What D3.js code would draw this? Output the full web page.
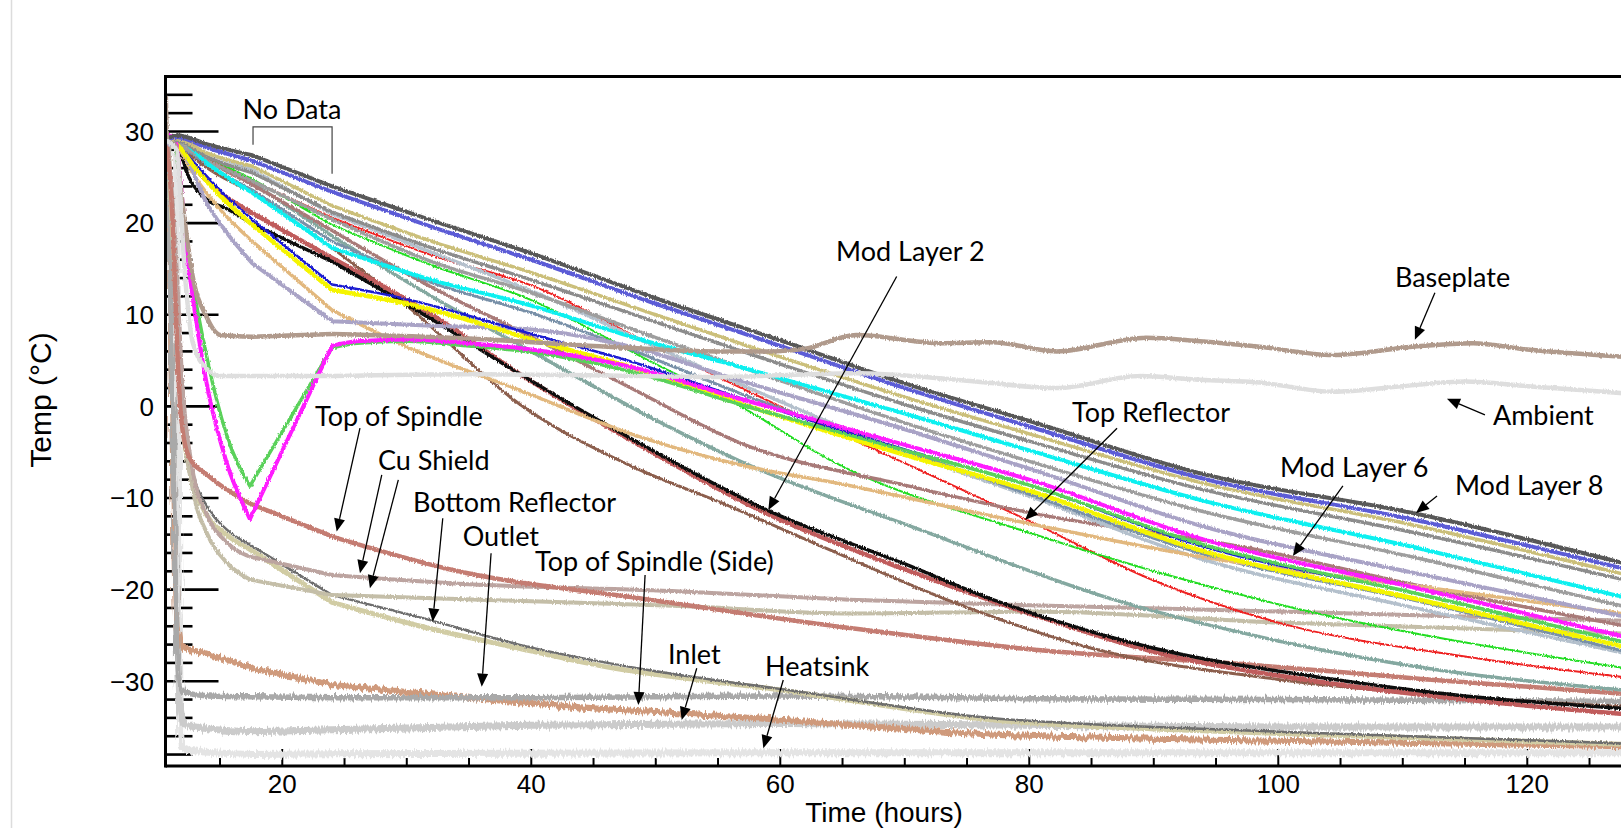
<!DOCTYPE html>
<html><head><meta charset="utf-8">
<script src="https://cdn.jsdelivr.net/npm/d3@7"></script>
<style>
html,body{margin:0;padding:0;background:#fff;overflow:hidden;}
svg{display:block;}
.tick-label{font-family:"Liberation Sans",Arial,sans-serif;font-size:26px;fill:#000;}
.ann{font-family:Lato,"Open Sans",sans-serif;font-size:27px;fill:#000;}
</style></head>
<body>
<svg id="chart" width="1621" height="828"></svg>
<script>
// ---------------- DATA (hours, °C) ----------------
const xTickLabels = [20, 40, 60, 80, 100, 120];
const yTickLabels = [30, 20, 10, 0, -10, -20, -30];

const modLayer8 = [[10.7,29.2],[11.5,29.6],[14,28.6],[17.6,27.4],[24,24],[32,20.3],[40,16.7],[50,11.8],[60,7.2],[70,2.5],[80,-1.6],[93.7,-7.3],[111,-11.7],[128,-17.2]];
const bluePurple = [[10.7,29],[11.5,29.4],[14,28.2],[17.6,26.8],[24,23.4],[32,19.6],[40,16],[50,11.2],[60,6.6],[70,2],[80,-2.2],[93.7,-7.8],[111,-12.4],[128,-17.8]];
const khaki = [[10.7,29],[11.5,29.2],[14,27.6],[17.6,26.2],[24,21.9],[32,18],[40,14.6],[50,10],[60,5.4],[70,1],[80,-3],[93.7,-8.3],[111,-13],[128,-18.4]];
const grayA = [[10.7,28.8],[11.5,29],[14,27.2],[17.6,25.5],[24,21.2],[32,17.3],[40,13.8],[50,9.2],[60,4.6],[70,0.2],[80,-3.8],[93.7,-9],[111,-13.8],[128,-19]];
const cyan = [[10.7,29.2],[11.5,29.2],[14,26.5],[17.6,23.3],[24,17.3],[32,13.8],[40,11],[48,7.6],[56.8,4.3],[70,-0.8],[80,-4.8],[93.7,-10.2],[111,-15.4],[128,-20.9]];
const grayB = [[11.5,28.8],[14,26.8],[17.6,24.6],[24,20.4],[32,15.8],[40,12.4],[50,7.5],[60,2.8],[70,-1.8],[80,-6],[93.7,-11.4],[111,-16.5],[128,-21.9]];
const lavender = [[10.7,28.6],[11.5,28.5],[14,22],[17.6,15.6],[24,9.3],[32,8.8],[40,8.4],[48,6.5],[56.8,2.8],[70,-2.5],[80,-6.8],[93.7,-13],[111,-18.2],[128,-23]];
const modLayer6 = [[10.7,29.6],[11.3,29.3],[12.5,15],[14,2],[15.5,-6],[17.4,-12.3],[24,6.6],[26,7.1],[30,7.3],[35,6.9],[40,6.2],[48,4.3],[56.8,0.8],[70,-4.2],[80,-8],[93.7,-14.4],[111,-19.8],[128,-25.2]];
const greenDip = [[10.7,29.2],[11.3,28.5],[12.5,16],[14,5],[15.5,-3],[17.4,-8.7],[24,6.4],[26,6.9],[30,7.1],[35,6.6],[40,5.9],[48,3.8],[56.8,0.2],[70,-4.8],[80,-8.6],[93.7,-15],[111,-20.4],[128,-25.8]];
const yellow = [[10.7,29],[11.5,28.6],[13,26],[15,23],[17.6,19.8],[24,12.7],[30,11.2],[36,9],[40,7.3],[48,4.3],[56.8,0.3],[70,-5.3],[80,-9.2],[93.7,-15.7],[111,-21],[128,-26.3]];
const blue = [[11.5,28.8],[13,26.5],[15,23.6],[17.6,20.4],[24,13.3],[30,11.7],[36,9.5],[40,7.9],[48,4.9],[56.8,0.9],[70,-4.7],[80,-8.6],[93.7,-15.2],[111,-20.4],[128,-25.8]];
const steel = [[11.5,28.8],[14,26.4],[17.6,23.6],[24,18],[32,13.5],[40,10.2],[48,6.2],[56.8,1.4],[70,-4.8],[80,-9.6],[93.7,-16],[111,-21.2],[128,-26.8]];
const lightSteel = [[11.5,29],[14,27.6],[17.6,25.8],[24,21],[32,16.8],[40,12.6],[50,6.5],[56.8,2.4],[70,-5],[80,-9.8],[93.7,-16.6],[111,-22],[128,-27]];
const red = [[11.5,29],[14,27],[17.6,24.6],[24,20.6],[32,16.5],[40,13.2],[50,6.5],[60,0],[70,-6.2],[80,-12.5],[90,-19],[100,-23.6],[115,-27.3],[128,-29.6]];
const greenBright = [[11.5,29],[14,27.2],[17.6,24.8],[24,19.8],[32,15.4],[40,11.6],[50,4.6],[56.8,0],[64.2,-6],[80,-13.8],[100,-21.6],[128,-28.6]];
const mauve = [[11.5,28.9],[14,26.8],[17.6,24.2],[24,19.2],[32,13],[40,7.6],[48,2],[56.8,-4],[70,-8.6],[80,-11.6],[98.5,-15.7],[111,-19.5],[128,-24]];
const teal = [[11.5,29],[14,27],[17.6,24.4],[24,18.6],[32,12],[40,6],[50,-1.5],[56.8,-6],[71.3,-13.5],[86.8,-21.1],[100,-25.6],[113,-28.8],[128,-31]];
const topReflector = [[10.7,28.8],[11.5,28.4],[13,25],[15,21.5],[17.6,18],[24,10.5],[30,6.5],[39,1.8],[48,-3],[56.8,-6.4],[65,-8.5],[78.2,-12.3],[93.7,-16.4],[111,-19.6],[128,-22.7]];
const modLayer2 = [[10.7,29],[11.5,28.6],[12.5,25],[14,22.5],[15.5,21.6],[17.6,19.9],[24,15.8],[32,9.5],[39,3.6],[48,-3.5],[58.9,-11.3],[70,-17.2],[76.9,-21],[90,-26.4],[103,-29.5],[115,-31.6],[128,-33]];
const brownRed = [[10.7,29],[11.5,28.8],[13,26],[17.6,21.1],[24,16.2],[32,10],[39,3.6],[48,-3.7],[58.9,-11.7],[70,-17.8],[80,-22.6],[90,-26.8],[103,-30],[115,-32],[128,-33.6]];
const brown = [[10.7,29],[11.5,28.8],[13,27],[17.6,23.4],[24,17.3],[30,11],[39.1,0.2],[48,-6.5],[55.4,-10.6],[63.7,-15.5],[73.2,-21],[85,-26.4],[100,-29.8],[113.5,-31.6],[128,-32.8]];
const topSpindle = [[10.7,29],[11.2,20],[11.6,5],[11.9,-1.5],[12.5,-5.5],[14,-7.5],[17.4,-10.6],[24.2,-14.3],[33.5,-17.8],[49.5,-21.1],[65.6,-24.2],[80,-26.5],[97.8,-28.2],[112,-29.8],[128,-31.4]];
const cuShieldA = [[10.8,29],[11.4,18],[12,2],[12.8,-7],[14,-12],[15.5,-14.8],[17.4,-16.4],[24,-18.4],[33.5,-19.3],[52,-20.2],[65.6,-21.1],[80,-21.7],[100,-22.4],[128,-23.4]];
const cuShieldB = [[10.8,29],[11.4,15],[12,-1],[12.8,-9],[14,-14],[15.5,-17],[17.4,-18.9],[24,-20.6],[35.9,-21.1],[52,-21.8],[65.6,-22.6],[80,-22.4],[100,-23.6],[128,-24.8]];
const bottomReflector = [[10.8,29],[11.4,16],[12,0],[12.8,-7],[14,-11],[15.5,-13.4],[17.4,-15.1],[24,-20.6],[31.8,-23.3],[39,-26],[49.5,-28.8],[60.3,-30.9],[76.9,-34],[90,-35],[100,-35.5],[128,-36.8]];
const khakiLow = [[10.8,29],[11.4,14],[12,-2],[12.8,-8],[14,-12],[15.5,-14],[17.4,-15.6],[24,-21.4],[31.1,-24],[39,-26.4],[45.5,-28.3],[60.3,-31],[76.9,-34.2],[90,-35.2],[100,-35.7],[128,-36.9]];
const outlet = [[10.8,29],[11.2,0],[11.6,-29],[12.1,-31.2],[14,-31.6],[17.6,-31.7],[24,-31.8],[40,-31.8],[60,-31.6],[80,-31.9],[100,-32],[128,-32.2]];
const inlet = [[10.8,29],[11.1,5],[11.5,-24],[11.9,-26.2],[14,-27],[17.6,-28.6],[24,-30.4],[35,-31.8],[45.5,-33],[51.8,-33.5],[60,-34.2],[76.9,-35.8],[100,-36.5],[128,-37.1]];
const lightGray = [[10.8,29],[11.2,0],[11.7,-32],[12.1,-34.6],[14,-35.2],[17.6,-35.5],[24,-35.3],[40,-34.8],[60,-34.6],[80,-34.8],[100,-35],[128,-35]];
const heatsink = [[10.9,29],[11.5,28],[11.7,-20],[11.9,-37.2],[13,-37.6],[17.6,-38],[24,-37.9],[60,-37.8],[128,-37.8]];
const baseplate = [[10.65,33.7],[10.75,29],[11.4,28.5],[12,22],[12.8,14.2],[13.9,9.8],[15,7.8],[17.6,7.6],[24,7.9],[35,7.4],[45,6.6],[55,6],[59.4,6],[62,6.3],[66.1,7.8],[72.8,6.9],[77,7],[82.2,6],[89.4,7.5],[93.7,7.1],[98.5,6.5],[104.4,5.6],[110.8,6.5],[115.6,6.9],[120,6.2],[128,5.4]];
const ambient = [[10.7,29],[11.5,28],[12.2,14],[12.8,7],[14,4],[15,3.3],[17.6,3.3],[24,3.3],[35,3.5],[45,3.4],[55,3.2],[60,3.4],[66.1,3.6],[75,2.8],[82.2,2.0],[88.9,3.3],[93.7,2.9],[98.5,2.6],[104.4,1.6],[110,2.2],[115,2.7],[120,2.2],[128,1.4]];

// annotations: label, text anchor point (left, middle) and arrow from/to (hours, °C)
const annLabels = ["Top of Spindle","Cu Shield","Bottom Reflector","Outlet","Top of Spindle (Side)","Inlet","Heatsink","Mod Layer 2","Top Reflector","Baseplate","Ambient","Mod Layer 6","Mod Layer 8"];
const annTextAt = [[22.63,-1.15],[27.69,-5.95],[30.5,-10.5],[34.49,-14.21],[40.3,-16.94],[50.98,-27.13],[58.77,-28.41],[64.48,16.9],[83.44,-0.68],[109.37,14.03],[117.24,-1.04],[100.13,-6.71],[114.19,-8.68]];
const annArrows = [
  [[26.24,-2.38],[24.37,-13.67]],
  [[27.99,-7.48],[26.24,-18.21]],
  [[29.32,-8.02],[27.04,-19.85]],
  [[32.89,-12.21],[32.08,-23.49]],
  [[36.77,-16.03],[36.02,-30.59]],
  [[49.14,-18.4],[48.6,-32.59]],
  [[53.29,-28.58],[52.08,-34.22]],
  [[60.24,-29.86],[58.64,-37.31]],
  [[69.35,14.17],[59.04,-11.3]],
  [[87.05,-2.38],[79.66,-12.39]],
  [[112.58,12.39],[110.97,7.26]],
  [[116.6,-0.93],[113.55,0.82]],
  [[105.19,-8.68],[101.17,-16.32]],
  [[112.75,-9.77],[111.06,-11.63]]
];
const noDataSpan = [17.65, 24.0];
const noDataLevels = [30.51, 28.55, 25.38];
const noDataText = [20.78, 32.37];

// series table built from the arrays (bottom to top drawing order)
const series = [
  {d:heatsink, c:"#e4e4e4", w:7, f:"band"},
  {d:lightGray, c:"#cbcbcb", w:7, f:"band"},
  {d:inlet, c:"#cf9a7c", w:6, f:"band"},
  {d:outlet, c:"#a9a9a9", w:5.5, f:"band"},
  {d:khakiLow, c:"#d1cca4", w:5, f:"fine"},
  {d:bottomReflector, c:"#6e6e6e", w:2.5, f:"fine"},
  {d:cuShieldB, c:"#c4bea8", w:4, f:"fine"},
  {d:cuShieldA, c:"#bca4a0", w:4, f:"fine"},
  {d:topSpindle, c:"#c47c72", w:4.5, f:"fine"},
  {d:brown, c:"#8c5e4e", w:3, f:"fine"},
  {d:brownRed, c:"#c05c5c", w:4.5, f:"fine"},
  {d:modLayer2, c:"#111111", w:3.5, f:"fine"},
  {d:teal, c:"#84a8a0", w:3.5, f:"fine"},
  {d:red, c:"#ee2020", w:2, f:"fine"},
  {d:greenBright, c:"#22dd22", w:2, f:"fine"},
  {d:mauve, c:"#a87a78", w:3.5, f:"fine"},
  {d:lightSteel, c:"#b4c0cc", w:3.5, f:"fine"},
  {d:steel, c:"#7890a8", w:3, f:"fine"},
  {d:topReflector, c:"#e2b87e", w:3.5, f:"fine"},
  {d:grayB, c:"#9e9e9e", w:3.5, f:"fine"},
  {d:lavender, c:"#a9a3c6", w:4, f:"fine"},
  {d:blue, c:"#1a1ad0", w:2.5, f:"fine"},
  {d:yellow, c:"#f5f500", w:4.5, f:"fine"},
  {d:greenDip, c:"#5ad15a", w:3.5, f:"fine"},
  {d:modLayer6, c:"#ff1aff", w:4, f:"fine"},
  {d:cyan, c:"#10f0f0", w:4, f:"fine"},
  {d:grayA, c:"#8c8c8c", w:3.5, f:"fine"},
  {d:khaki, c:"#cbbf7a", w:3.5, f:"fine"},
  {d:bluePurple, c:"#5b5bd6", w:4, f:"fine"},
  {d:modLayer8, c:"#595959", w:4, f:"fine"},
  {d:baseplate, c:"#b09a8c", w:4.5, f:"fine"},
  {d:ambient, c:"#dedede", w:4.5, f:"fine"}
];

// ---------------- CHART ----------------
const svg = d3.select("#chart");
const L = 165.5, T = 76.5, B = 766;
const x = d3.scaleLinear().domain([10.62, 140]).range([L, L + 129.38 * 12.45]);
const y = d3.scaleLinear().domain([-39.25, 36.0]).range([B, T]);

const defs = svg.append("defs");
function roughFilter(id, freq, scale) {
  const f = defs.append("filter").attr("id", id)
    .attr("x","-2%").attr("y","-10%").attr("width","104%").attr("height","120%");
  f.append("feTurbulence").attr("type","fractalNoise").attr("baseFrequency",freq)
    .attr("numOctaves",2).attr("seed",7).attr("result","n");
  f.append("feDisplacementMap").attr("in","SourceGraphic").attr("in2","n")
    .attr("scale",scale).attr("xChannelSelector","R").attr("yChannelSelector","G");
}
roughFilter("fine", "0.9 0.25", 3.2);
roughFilter("band", "0.55 0.04", 8);

// page edge line
svg.append("line").attr("x1",11.5).attr("x2",11.5).attr("y1",0).attr("y2",828)
  .attr("stroke","#dcdcdc").attr("stroke-width",1.5);

defs.append("clipPath").attr("id","plot").append("rect")
  .attr("x",L).attr("y",T).attr("width",1621-L).attr("height",B-T);

// ticks (drawn under data)
const tickG = svg.append("g");
const yMinor = d3.range(-38, 36, 2).filter(v => v % 10 !== 0);
tickG.selectAll(".ymin").data(yMinor).join("line")
  .attr("x1",L).attr("x2",L+27).attr("y1",d=>y(d)).attr("y2",d=>y(d))
  .attr("stroke","#000").attr("stroke-width",2.6);
tickG.selectAll(".ymaj").data(yTickLabels).join("line")
  .attr("x1",L).attr("x2",L+53).attr("y1",d=>y(d)).attr("y2",d=>y(d))
  .attr("stroke","#000").attr("stroke-width",2.6);
const xMinor = d3.range(15, 140, 5).filter(v => v % 20 !== 0);
tickG.selectAll(".xmin").data(xMinor).join("line")
  .attr("x1",d=>x(d)).attr("x2",d=>x(d)).attr("y1",B).attr("y2",B-8)
  .attr("stroke","#000").attr("stroke-width",2);
tickG.selectAll(".xmaj").data(xTickLabels).join("line")
  .attr("x1",d=>x(d)).attr("x2",d=>x(d)).attr("y1",B).attr("y2",B-17)
  .attr("stroke","#000").attr("stroke-width",2);

// data lines: smooth where logged, straight across the no-data gap
const smooth = d3.line().x(d=>x(d[0])).y(d=>y(d[1])).curve(d3.curveMonotoneX);
function pathFor(pts) {
  const a = pts.filter(p => p[0] <= noDataSpan[0] + 0.1);
  const b = pts.filter(p => p[0] >= noDataSpan[1] - 0.1);
  return smooth(a) + smooth(b).replace(/^M/, "L");
}
svg.append("g").attr("clip-path","url(#plot)")
  .selectAll("g").data(series).join("g").attr("filter", s => `url(#${s.f})`)
  .append("path")
  .attr("d", s => pathFor(s.d))
  .attr("fill","none").attr("stroke", s=>s.c).attr("stroke-width", s=>s.w)
  .attr("stroke-linejoin","round").attr("stroke-linecap","round");

// axes frame
svg.append("line").attr("x1",L).attr("x2",1621).attr("y1",T).attr("y2",T).attr("stroke","#000").attr("stroke-width",3);
svg.append("line").attr("x1",L).attr("x2",L).attr("y1",T-1.5).attr("y2",B+1.5).attr("stroke","#000").attr("stroke-width",3);
svg.append("line").attr("x1",L).attr("x2",1621).attr("y1",B).attr("y2",B).attr("stroke","#000").attr("stroke-width",3);

// tick labels
svg.selectAll(".yl").data(yTickLabels).join("text").attr("class","tick-label")
  .attr("x",154).attr("y",d=>y(d)).attr("dy","0.36em").attr("text-anchor","end")
  .text(d => d < 0 ? "\u2212" + Math.abs(d) : d);
svg.selectAll(".xl").data(xTickLabels).join("text").attr("class","tick-label")
  .attr("x",d=>x(d)).attr("y",793).attr("text-anchor","middle").text(d=>d);

// axis titles
svg.append("text").attr("class","tick-label").style("font-size","28px")
  .attr("x",884).attr("y",822).attr("text-anchor","middle").text("Time (hours)");
svg.append("text").attr("class","tick-label").style("font-size","30px")
  .attr("transform","translate(51,400) rotate(-90)").attr("text-anchor","middle").text("Temp (\u00B0C)");

// No Data bracket
const nd = svg.append("g");
nd.append("path").attr("fill","none").attr("stroke","#444").attr("stroke-width",1.2)
  .attr("d", `M${x(noDataSpan[0])},${y(noDataLevels[1])} V${y(noDataLevels[0])} H${x(noDataSpan[1])} V${y(noDataLevels[2])}`);
nd.append("text").attr("class","ann").attr("x",x(noDataText[0])).attr("y",y(noDataText[1]))
  .attr("dy","0.35em").attr("text-anchor","middle").text("No Data");

// annotations
const annG = svg.append("g");
annLabels.forEach((t,i) => {
  annG.append("text").attr("class","ann").attr("x",x(annTextAt[i][0])).attr("y",y(annTextAt[i][1]))
    .attr("dy","0.35em").text(t);
});
annArrows.forEach(a => {
  const x1 = x(a[0][0]), y1 = y(a[0][1]), x2 = x(a[1][0]), y2 = y(a[1][1]);
  const ang = Math.atan2(y2-y1, x2-x1);
  const hl = 13, hw = 5.5;
  const bx = x2 - hl*Math.cos(ang), by = y2 - hl*Math.sin(ang);
  annG.append("line").attr("x1",x1).attr("y1",y1).attr("x2",bx).attr("y2",by)
    .attr("stroke","#000").attr("stroke-width",1.3);
  const px = -Math.sin(ang)*hw, py = Math.cos(ang)*hw;
  annG.append("path").attr("fill","#000")
    .attr("d",`M${x2},${y2} L${bx+px},${by+py} L${bx-px},${by-py} Z`);
});
</script>
</body></html>
